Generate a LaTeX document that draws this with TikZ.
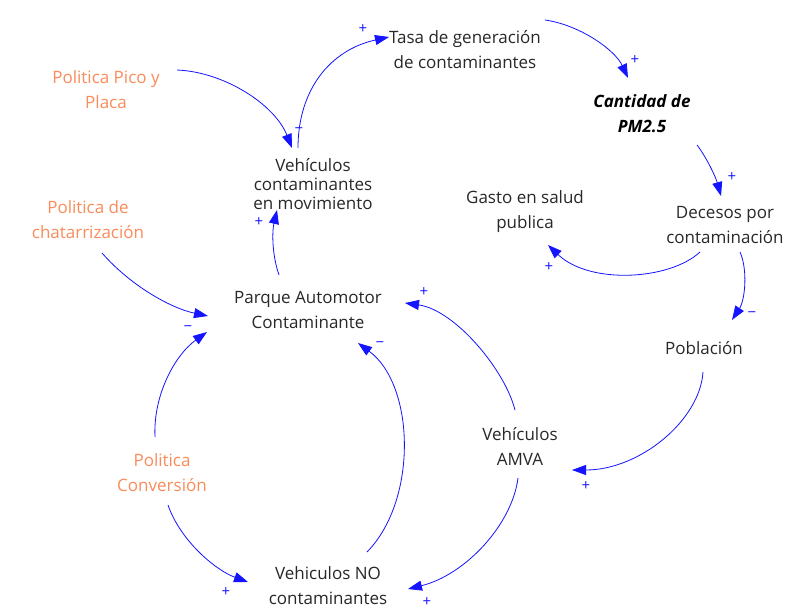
\documentclass[tikz,border=0pt]{standalone}
\usepackage{fontspec}
\setmainfont{Open Sans}
\usetikzlibrary{arrows.meta,calc}
\definecolor{txt}{RGB}{40,40,40}
\definecolor{policy}{RGB}{250,140,90}
\definecolor{linkblue}{RGB}{20,20,255}
\tikzset{
  var/.style={text=txt,align=center,font=\fontsize{17}{25}\selectfont,inner sep=0pt},
  pol/.style={var,text=policy},
  link/.style={draw=linkblue,line width=0.8pt,-{Triangle[length=14pt,width=10pt]}},
  sign/.style={text=linkblue,font=\fontsize{15}{15}\selectfont,inner sep=0pt}
}
\begin{document}
\begin{tikzpicture}[x=1pt,y=-1pt]
\useasboundingbox[fill=white] (0,0) rectangle (803,607);

% variables
\node[var] (tasa) at (465,50) {Tasa de generación\\de contaminantes};
\node[var,font=\fontsize{17}{25}\selectfont\bfseries\itshape,text=black] (pm) at (642,114) {Cantidad de\\PM2.5};
\node[var] (dec) at (725,225) {Decesos por\\contaminación};
\node[var] (gasto) at (525,212) {Gasto en salud\\publica};
\node[var] (pob) at (704,348) {Población};
\node[var] (amva) at (520,446) {Vehículos\\AMVA};
\node[var] (nocont) at (328,586) {Vehiculos NO\\contaminantes};
\node[var] (parque) at (308,310) {Parque Automotor\\Contaminante};
\node[var,font=\fontsize{17}{19}\selectfont] (veh) at (313,184) {Vehículos\\contaminantes\\en movimiento};

% policies
\node[pol] (pico) at (106,90) {Politica Pico y\\Placa};
\node[pol] (chat) at (88,220) {Politica de\\chatarrización};
\node[pol] (conv) at (162,473) {Politica\\Conversión};

% causal links
\draw[link] ($(veh)+(-15,-36)$) .. controls (298,90) and (330,50) .. ($(tasa)+(-76,-13)$);
\draw[link] ($(tasa)+(80,-30)$) .. controls (580,25) and (615,50) .. ($(pm)+(-14,-36)$);
\draw[link] ($(pm)+(55,31)$) .. controls (707,158) and (716,178) .. ($(dec)+(-4,-29)$);
\draw[link] ($(dec)+(-25,27)$) .. controls (670,280) and (590,285) .. ($(gasto)+(23,33)$);
\draw[link] ($(dec)+(15,27)$) .. controls (748,270) and (745,300) .. ($(pob)+(28,-28)$);
\draw[link] ($(pob)+(-1,24)$) .. controls (700,420) and (640,470) .. ($(amva)+(52,24)$);
\draw[link] ($(amva)+(-5,-36)$) .. controls (505,370) and (455,310) .. ($(parque)+(97,-7)$);
\draw[link] ($(amva)+(-2,32)$) .. controls (512,525) and (465,575) .. ($(nocont)+(80,3)$);
\draw[link] ($(nocont)+(39,-34)$) .. controls (418,500) and (415,385) .. ($(parque)+(50,33)$);
\draw[link] ($(conv)+(-7,-36)$) .. controls (153,395) and (175,355) .. ($(parque)+(-101,22)$);
\draw[link] ($(chat)+(14,33)$) .. controls (130,285) and (170,308) .. ($(parque)+(-100,6)$);
\draw[link] ($(conv)+(6,32)$) .. controls (180,540) and (215,570) .. ($(nocont)+(-80,-4)$);
\draw[link] ($(parque)+(-29,-35)$) .. controls (272,255) and (272,232) .. ($(veh)+(-36,26)$);
\draw[link] ($(pico)+(71,-20)$) .. controls (225,72) and (275,105) .. ($(veh)+(-21,-36)$);

% polarity signs
\node[sign] (p1) at (363,29) {+};
\node[sign] (p2) at (635,60) {+};
\node[sign] (p3) at (732,177) {+};
\node[sign] (p4) at (549,267) {+};
\node[sign] (p5) at (752,315) {−};
\node[sign] (p6) at (586,486) {+};
\node[sign] (p7) at (424,292) {+};
\node[sign] (p8) at (427,602) {+};
\node[sign] (p9) at (380,345) {−};
\node[sign] (p10) at (188,329) {−};
\node[sign] (p11) at (226,592) {+};
\node[sign] (p12) at (259,222) {+};
\node[sign] (p13) at (299,131) {−};
\end{tikzpicture}
\end{document}
